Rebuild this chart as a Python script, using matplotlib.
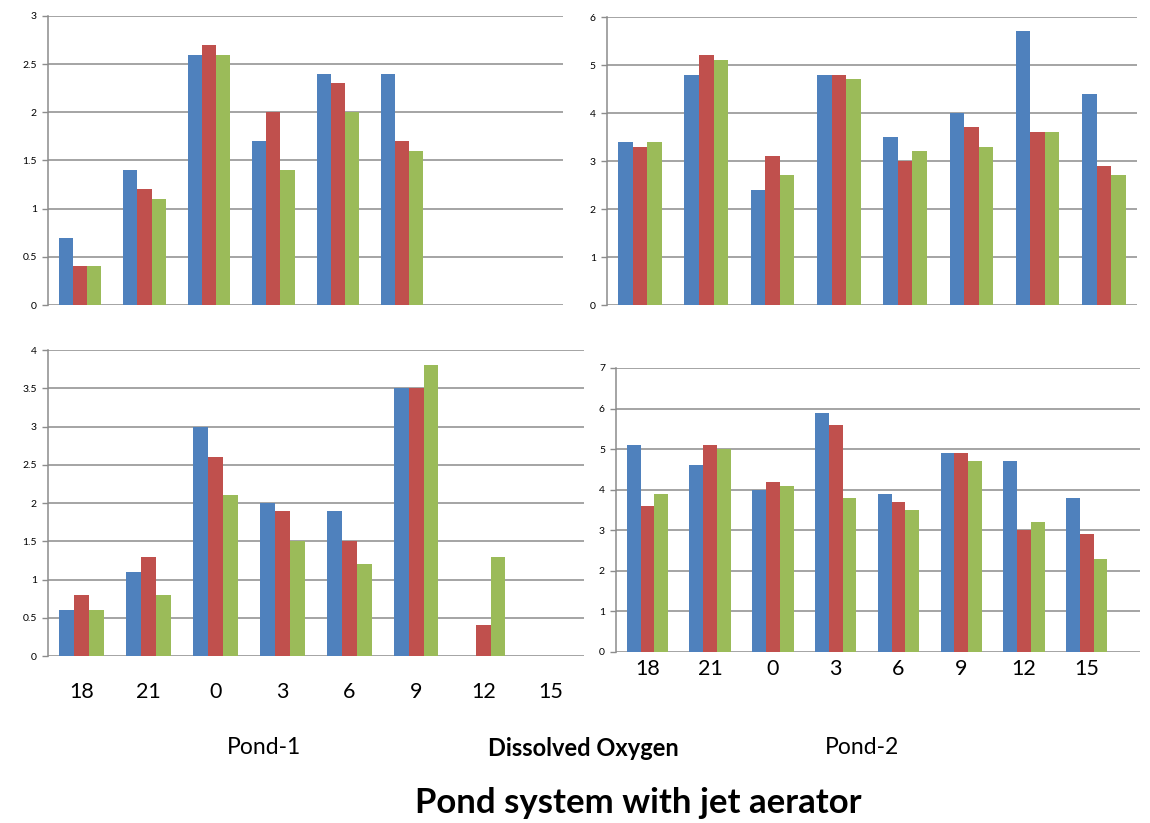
import numpy as np
import matplotlib
matplotlib.use("Agg")
import matplotlib.pyplot as plt

plt.rcParams['font.family'] = ['Lato', 'DejaVu Sans']

hours = ["18", "21", "0", "3", "6", "9", "12", "15"]
nan = np.nan

# Pond-1 top (3 series)
p1_top_blue = [0.7, 1.4, 2.6, 1.7, 2.4, 2.4, nan, nan]
p1_top_red = [0.4, 1.2, 2.7, 2.0, 2.3, 1.7, nan, nan]
p1_top_green = [0.4, 1.1, 2.6, 1.4, 2.0, 1.6, nan, nan]

# Pond-2 top
p2_top_blue = [3.4, 4.8, 2.4, 4.8, 3.5, 4.0, 5.7, 4.4]
p2_top_red = [3.3, 5.2, 3.1, 4.8, 3.0, 3.7, 3.6, 2.9]
p2_top_green = [3.4, 5.1, 2.7, 4.7, 3.2, 3.3, 3.6, 2.7]

# Pond-1 bottom
p1_bot_blue = [0.6, 1.1, 3.0, 2.0, 1.9, 3.5, nan, nan]
p1_bot_red = [0.8, 1.3, 2.6, 1.9, 1.5, 3.5, 0.4, nan]
p1_bot_green = [0.6, 0.8, 2.1, 1.5, 1.2, 3.8, 1.3, nan]

# Pond-2 bottom
p2_bot_blue = [5.1, 4.6, 4.0, 5.9, 3.9, 4.9, 4.7, 3.8]
p2_bot_red = [3.6, 5.1, 4.2, 5.6, 3.7, 4.9, 3.0, 2.9]
p2_bot_green = [3.9, 5.0, 4.1, 3.8, 3.5, 4.7, 3.2, 2.3]

colors = ["#4F81BD", "#C0504D", "#9BBB59"]
grid_c = "#8c8c8c"

fig = plt.figure(figsize=(11.5, 8.23), dpi=100)


def panel(rect, series, ymax, ystep, xmax, show_x, pad):
    ax = fig.add_axes(rect)
    x = np.arange(len(hours))
    w = 0.22
    for i, (vals, c) in enumerate(zip(series, colors)):
        ax.bar(x + (i - 1) * w, vals, width=w, color=c, linewidth=0, zorder=3)
    ax.set_xlim(-0.5, xmax)
    ax.set_ylim(0, ymax)
    ticks = np.arange(0, ymax + 1e-9, ystep)
    ax.set_yticks(ticks)
    ax.set_yticklabels(["%g" % t for t in ticks])
    for t in ticks:
        ax.axhline(t, color=grid_c, linewidth=1.1, zorder=1)
    for s in ["top", "right", "bottom"]:
        ax.spines[s].set_visible(False)
    ax.spines["left"].set_color(grid_c)
    ax.spines["left"].set_linewidth(1.1)
    ax.tick_params(axis="y", length=4, width=1, color=grid_c, labelsize=7.5, pad=4)
    if show_x:
        ax.set_xticks(x)
        ax.set_xticklabels(hours, fontsize=15.5)
        ax.tick_params(axis="x", length=0, pad=pad)
    else:
        ax.set_xticks([])
    return ax


panel([0.0417, 0.6294, 0.448, 0.3512], [p1_top_blue, p1_top_red, p1_top_green],
      3, 0.5, 7.5, False, 0)
panel([0.5278, 0.6294, 0.4609, 0.3499], [p2_top_blue, p2_top_red, p2_top_green],
      6, 1, 7.5, False, 0)
panel([0.0417, 0.2029, 0.466, 0.3718], [p1_bot_blue, p1_bot_red, p1_bot_green],
      4, 0.5, 7.5, True, 19)
panel([0.5357, 0.2078, 0.4557, 0.3451], [p2_bot_blue, p2_bot_red, p2_bot_green],
      7, 1, 7.85, True, 5)

fig.text(264 / 1150, 1 - 748 / 823, "Pond-1", ha="center", va="center", fontsize=16.5)
fig.text(583 / 1150, 1 - 748 / 823, "Dissolved Oxygen", ha="center", va="center",
         fontsize=17, fontweight="bold")
fig.text(862 / 1150, 1 - 748 / 823, "Pond-2", ha="center", va="center", fontsize=16.5)
fig.text(638 / 1150, 1 - 803 / 823, "Pond system with jet aerator", ha="center",
         va="center", fontsize=25, fontweight="bold")

fig.savefig("out.png", dpi=100)
